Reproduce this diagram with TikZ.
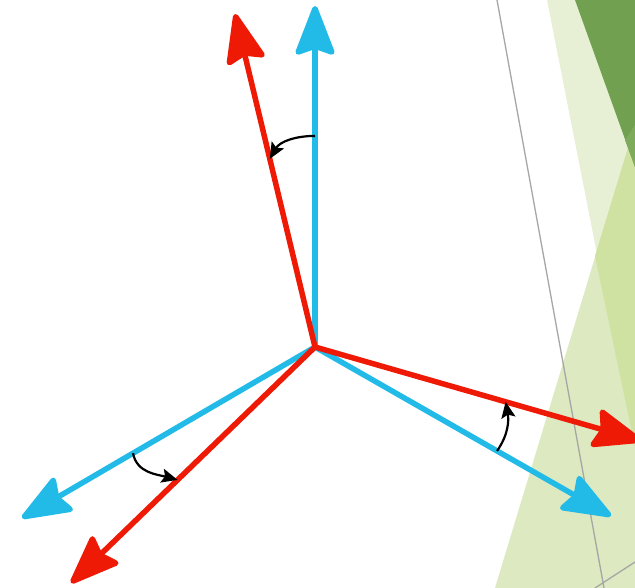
\documentclass[tikz,border=0pt]{standalone}
\usepackage{tikz}
\usetikzlibrary{arrows.meta,calc}
\definecolor{SkyAxis}{HTML}{22BBE8}
\definecolor{RedAxis}{HTML}{EE1A06}
\definecolor{PaleLeaf}{HTML}{E7F0D5}
\definecolor{LightLeaf}{HTML}{DDE9C1}
\definecolor{MidLeaf}{HTML}{D0E2A1}
\definecolor{DarkLeaf}{HTML}{70A050}

\begin{document}
\begin{tikzpicture}[x=1pt,y=-1pt,
    axis/.style={line width=5.5pt,-{Stealth[length=55pt,width=42pt,inset=7pt,round]}},
    turn/.style={line width=2.2pt,-{Stealth[length=16pt,width=14pt,inset=3pt]}}]
  \useasboundingbox (0,0) rectangle (635,588);
  \clip (0,0) rectangle (635,588);
  % background leaves
  \fill[PaleLeaf] (547,0) -- (635,0) -- (635,447) -- cycle;
  \fill[LightLeaf] (495,588) -- (635,125) -- (635,588) -- cycle;
  \fill[MidLeaf] (595,256) -- (635,125) -- (635,447) -- cycle;
  \fill[DarkLeaf] (575,0) -- (635,0) -- (635,167) -- cycle;
  \fill[DarkLeaf!85!MidLeaf] (625,140) -- (635,125) -- (635,167) -- cycle;
  \draw[gray!70,line width=1.3pt] (497,0) -- (604,588) (595,588) -- (635,562);
  % axes
  \coordinate (O) at (315,347);
  \coordinate (bu) at (315,6);
  \coordinate (bl) at (22,518);
  \coordinate (br) at (611,516);
  \coordinate (ru) at (235,14);
  \coordinate (rl) at (71,583);
  \coordinate (rr) at (642,441);
  \foreach \t in {bu,bl,br} \draw[axis,SkyAxis] (O) -- (\t);
  \foreach \t in {ru,rl,rr} \draw[axis,RedAxis] (O) -- (\t);
  % rotation arrows
  \coordinate (a1) at ($(O)!0.619!(bu)$);
  \coordinate (a2) at ($(O)!0.565!(ru)$);
  \coordinate (b1) at ($(O)!0.621!(bl)$);
  \coordinate (b2) at ($(O)!0.563!(rl)$);
  \coordinate (c1) at ($(O)!0.615!(br)$);
  \coordinate (c2) at ($(O)!0.583!(rr)$);
  \draw[turn] (a1) to[out=180,in=60] (a2);
  \draw[turn] (b1) to[out=-80,in=165] (b2);
  \draw[turn] (c1) to[out=55,in=-80] (c2);
\end{tikzpicture}
\end{document}
